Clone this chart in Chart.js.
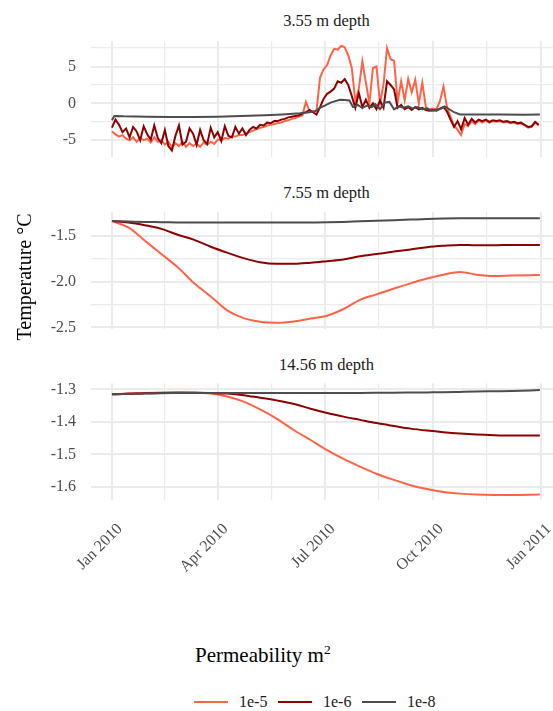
<!DOCTYPE html>
<html>
<head>
<meta charset="utf-8">
<script src="https://cdn.jsdelivr.net/npm/chart.js@4.4.1/dist/chart.umd.min.js"></script>
<style>
html,body{margin:0;padding:0;background:#ffffff;}
body{width:553px;height:711px;overflow:hidden;position:relative;font-family:"Liberation Serif","Times New Roman",serif;}
canvas{position:absolute;left:0;}
.strip{position:absolute;left:0;width:653px;text-align:center;font-size:16.5px;line-height:16px;color:#1a1a1a;white-space:nowrap;}
#ytitle{position:absolute;left:-76px;top:267px;width:200px;height:20px;line-height:20px;font-size:20px;text-align:center;color:#000;transform:rotate(-90deg);white-space:nowrap;}
#legtitle{position:absolute;left:195px;top:645px;font-size:21px;line-height:20px;color:#000;white-space:nowrap;}
#legtitle sup{font-size:13.5px;line-height:0;vertical-align:8px;}
.lkey{position:absolute;height:2px;}
.ltxt{position:absolute;font-size:16px;line-height:16px;color:#1a1a1a;white-space:nowrap;}
</style>
</head>
<body>
<div class="strip" id="s0" style="top:13px"></div>
<div class="strip" id="s1" style="top:185px"></div>
<div class="strip" id="s2" style="top:356.5px"></div>
<canvas id="c0" width="600" height="138" style="top:30px"></canvas>
<canvas id="c1" width="600" height="140" style="top:200px"></canvas>
<canvas id="c2" width="600" height="230" style="top:372px"></canvas>
<div id="ytitle">Temperature °C</div>
<div id="legtitle">Permeability m<sup>2</sup></div>
<div id="legend"></div>
<script>
// ---- series / categories ----
const seriesNames = ['1e-5', '1e-6', '1e-8'];
const seriesColors = ['#FF6347', '#8B0000', '#4D4D4D'];
const depthTitles = ['3.55 m depth', '7.55 m depth', '14.56 m depth'];

// x axis (days since 1 Jan 2010)
const xTickDays = [0, 90, 181, 273, 365];
const xTickLabels = ['Jan 2010', 'Apr 2010', 'Jul 2010', 'Oct 2010', 'Jan 2011'];
const xMinorDays = [45, 135.5, 227, 319];

// y ticks per panel
const yTicks355 = [-5, 0, 5];
const yTickLabels355 = ['-5', '0', '5'];
const yMinor355 = [-2.5, 2.5, 7.5];
const yTicks755 = [-2.5, -2.0, -1.5];
const yTickLabels755 = ['-2.5', '-2.0', '-1.5'];
const yMinor755 = [-2.25, -1.75];
const yTicks1456 = [-1.6, -1.5, -1.4, -1.3];
const yTickLabels1456 = ['-1.6', '-1.5', '-1.4', '-1.3'];
const yMinor1456 = [-1.55, -1.45, -1.35];

// ---- 3.55 m depth ----
const days355 = [
  0,3,6,9,12,15,18,21,24,27,
  30,33,36,39,42,45,48,51,54,57,
  60,63,66,69,72,75,78,81,84,87,
  90,93,96,99,102,105,108,111,114,117,
  120,123,126,129,132,135,138,141,144,147,
  150,153,156,159,162,165,168,171,174,177,
  180,183,186,189,192,195,198,201,204,207,
  210,213,216,219,222,225,228,231,234,237,
  240,243,246,249,252,255,258,261,264,267,
  270,273,276,279,282,285,288,291,294,297,
  300,303,306,309,312,315,318,321,324,327,
  330,333,336,339,342,345,348,351,354,357,
  360,363];
const temp355_1e5 = [
  -3.8,-4.2,-4.5,-4.3,-4.8,-5.0,-4.6,-5.2,-4.7,-5.0,
  -4.8,-5.3,-4.6,-5.2,-5.0,-5.6,-5.2,-6.0,-5.4,-5.8,
  -5.2,-5.9,-5.4,-5.8,-5.5,-5.9,-5.3,-5.6,-5.2,-5.5,
  -4.9,-5.0,-4.7,-4.8,-4.5,-4.5,-4.3,-4.3,-4.1,-3.9,
  -3.7,-3.5,-3.3,-3.2,-3.0,-2.9,-2.8,-2.7,-2.6,-2.4,
  -2.3,-2.1,-2.0,-1.8,-1.6,0.2,-1.0,-1.1,-1.0,3.5,
  4.6,5.2,6.5,7.4,7.3,7.8,7.6,6.5,4.8,0.3,
  2.0,5.7,2.8,0.0,4.8,5.0,0.0,2.6,7.5,6.0,
  5.8,0.2,3.0,0.4,3.3,1.5,3.2,0.0,2.8,-0.5,
  -0.8,-0.7,-0.8,0.3,2.3,-0.5,-1.8,-3.0,-3.6,-4.3,
  -2.8,-3.1,-2.4,-2.8,-2.3,-2.6,-2.3,-2.6,-2.4,-2.5,
  -2.4,-2.6,-2.5,-2.7,-2.6,-2.8,-2.7,-3.0,-3.3,-3.2,
  -2.6,-3.0];
const temp355_1e6 = [
  -3.3,-2.2,-2.9,-3.9,-3.4,-4.6,-3.2,-3.8,-5.0,-3.1,
  -4.2,-4.9,-3.0,-4.7,-5.4,-3.6,-5.8,-6.4,-4.4,-3.0,
  -5.6,-5.2,-3.4,-4.1,-5.6,-3.6,-5.0,-5.5,-3.3,-4.6,
  -3.9,-5.1,-3.1,-4.4,-4.6,-3.2,-4.1,-3.4,-4.3,-3.6,
  -3.2,-3.4,-2.9,-3.0,-2.6,-2.7,-2.4,-2.4,-2.2,-2.1,
  -1.9,-1.8,-1.7,-1.6,-1.4,-1.2,-0.9,-1.2,-1.5,-0.5,
  0.6,1.3,1.6,2.0,3.0,2.8,3.3,2.5,1.0,-0.6,
  1.4,-0.5,0.5,-0.6,0.0,-0.8,0.4,-0.6,3.0,2.5,
  1.9,-0.6,-0.2,-0.8,-0.5,-0.9,-0.5,-0.8,-0.6,-0.9,
  -1.0,-0.9,-1.0,-0.7,-0.5,-1.1,-2.2,-3.2,-2.4,-3.5,
  -2.0,-2.9,-2.1,-2.6,-2.2,-2.4,-2.2,-2.5,-2.3,-2.4,
  -2.3,-2.5,-2.4,-2.6,-2.5,-2.7,-2.6,-2.9,-3.2,-3.1,
  -2.5,-2.9];
const days355_1e8 = [0,2,10,30,50,70,90,110,130,145,160,168,173,177,181,186,190,194,198,202,205,209,213,217,221,224,228,232,236,240,244,248,252,256,260,264,268,272,276,280,283,287,291,296,310,330,350,364];
const temp355_1e8 = [-2.3,-1.7,-1.75,-1.8,-1.85,-1.85,-1.8,-1.7,-1.6,-1.5,-1.35,-1.2,-1.05,-0.6,-0.3,0.1,0.3,0.5,0.45,0.4,-0.5,-0.2,-0.6,-0.3,-0.5,-0.1,-0.8,0.1,0.2,-0.8,-0.4,-0.6,-0.4,-0.7,-0.5,-0.8,-0.7,-1.0,-0.9,-0.7,-0.4,-0.8,-1.2,-1.5,-1.5,-1.5,-1.55,-1.5];

// ---- 7.55 m and 14.56 m depth ----
const daysDeep = [0,14,28,42,56,70,84,98,112,126,140,155,169,183,197,211,225,240,254,268,282,296,310,325,340,364];
const temp755_1e5 = [-1.34,-1.41,-1.555,-1.70,-1.845,-2.02,-2.163,-2.315,-2.40,-2.44,-2.45,-2.436,-2.405,-2.373,-2.30,-2.20,-2.14,-2.076,-2.02,-1.967,-1.925,-1.895,-1.925,-1.94,-1.935,-1.93];
const temp755_1e6 = [-1.34,-1.355,-1.385,-1.425,-1.49,-1.546,-1.62,-1.685,-1.745,-1.79,-1.807,-1.807,-1.795,-1.778,-1.76,-1.725,-1.70,-1.673,-1.65,-1.625,-1.61,-1.60,-1.605,-1.605,-1.60,-1.60];
const temp755_1e8 = [-1.34,-1.345,-1.35,-1.352,-1.355,-1.356,-1.357,-1.357,-1.357,-1.357,-1.357,-1.356,-1.355,-1.354,-1.35,-1.343,-1.337,-1.33,-1.324,-1.318,-1.313,-1.31,-1.309,-1.309,-1.309,-1.309];
const temp1456_1e5 = [-1.3155,-1.313,-1.311,-1.3095,-1.309,-1.3095,-1.313,-1.322,-1.338,-1.362,-1.39,-1.426,-1.456,-1.487,-1.514,-1.538,-1.56,-1.579,-1.595,-1.607,-1.616,-1.621,-1.624,-1.625,-1.625,-1.624];
const temp1456_1e6 = [-1.3155,-1.314,-1.312,-1.311,-1.3105,-1.3105,-1.311,-1.313,-1.318,-1.326,-1.334,-1.345,-1.36,-1.373,-1.384,-1.394,-1.404,-1.413,-1.421,-1.427,-1.432,-1.436,-1.439,-1.441,-1.442,-1.442];
const temp1456_1e8 = [-1.3155,-1.314,-1.313,-1.312,-1.3115,-1.311,-1.311,-1.311,-1.311,-1.311,-1.311,-1.311,-1.311,-1.311,-1.311,-1.311,-1.3108,-1.3105,-1.310,-1.3095,-1.309,-1.308,-1.307,-1.306,-1.305,-1.3025];

// ---- build charts ----
const GRID = '#EBEBEB';
const TICKCOL = '#4D4D4D';
const FONT = '"Liberation Serif", "Times New Roman", serif';
const X_MIN = -18.25, X_MAX = 383.25;
const PLOT_LEFT = 90.5, PLOT_RIGHT = 562.5;

function pts(days, vals) { return days.map((d, i) => ({ x: d, y: vals[i] })); }

function makeDatasets(list, smooth) {
  return list.map((s, k) => ({
    label: seriesNames[k],
    data: pts(s[0], s[1]),
    borderColor: seriesColors[k],
    backgroundColor: seriesColors[k],
    borderWidth: 2,
    pointRadius: 0,
    fill: false,
    tension: 0,
    cubicInterpolationMode: smooth ? 'monotone' : 'default',
    order: 3 - k
  }));
}

function makeChart(id, datasets, yMin, yMax, yMajor, yLabels, yMinor, showX, area, xAxisH) {
  const xGrid = xTickDays.concat(xMinorDays).sort((a, b) => a - b);
  const yGrid = yMajor.concat(yMinor).sort((a, b) => a - b);
  const isMaj = (arr, v) => arr.some(a => Math.abs(a - v) < 1e-9);
  const canvas = document.getElementById(id);
  const H = canvas.height;
  const chart = new Chart(canvas, {
    type: 'line',
    data: { datasets },
    options: {
      responsive: false,
      animation: false,
      devicePixelRatio: 1,
      layout: { padding: { top: area[0], right: 600 - PLOT_RIGHT, bottom: H - area[1] - (showX ? xAxisH : 0), left: 0 } },
      plugins: { legend: { display: false }, tooltip: { enabled: false }, title: { display: false } },
      scales: {
        x: {
          type: 'linear', min: X_MIN, max: X_MAX,
          afterBuildTicks: s => { s.ticks = xGrid.map(v => ({ value: v })); },
          afterFit: s => { s.height = showX ? xAxisH : 0; s.paddingLeft = 0; s.paddingRight = 0; s.paddingTop = 0; s.paddingBottom = 0; },
          grid: { color: GRID, drawTicks: false, lineWidth: c => isMaj(xTickDays, c.tick.value) ? 2 : 1.2 },
          border: { display: false },
          ticks: {
            display: showX, autoSkip: false, minRotation: 45, maxRotation: 45, padding: 20, labelOffset: 8,
            color: TICKCOL, font: { family: FONT, size: 16 },
            callback: v => { const i = xTickDays.indexOf(v); return i >= 0 ? xTickLabels[i] : ''; }
          }
        },
        y: {
          type: 'linear', min: yMin, max: yMax,
          afterBuildTicks: s => { s.ticks = yGrid.map(v => ({ value: v })); },
          afterFit: s => { s.width = PLOT_LEFT; s.paddingTop = 0; s.paddingBottom = 0; s.paddingLeft = 0; s.paddingRight = 0; },
          grid: { color: GRID, drawTicks: false, lineWidth: c => isMaj(yMajor, c.tick.value) ? 2 : 1.2 },
          border: { display: false },
          ticks: {
            padding: 14.5, color: TICKCOL, font: { family: FONT, size: 16 },
            callback: v => { const i = yMajor.findIndex(a => Math.abs(a - v) < 1e-9); return i >= 0 ? yLabels[i] : ''; }
          }
        }
      }
    }
  });
  // make sure the plotting area lands exactly on the wanted panel box
  for (let it = 0; it < 5; it++) {
    const ca = chart.chartArea;
    const p = chart.options.layout.padding;
    const dT = area[0] - ca.top, dB = ca.bottom - area[1], dR = ca.right - PLOT_RIGHT, dL = PLOT_LEFT - ca.left;
    if (Math.abs(dT) < 0.05 && Math.abs(dB) < 0.05 && Math.abs(dR) < 0.05 && Math.abs(dL) < 0.05) break;
    p.top += dT; p.bottom += dB; p.right += dR; p.left += dL;
    chart.update();
  }
  return chart;
}

// panel boxes in canvas coordinates: [top, bottom]
makeChart('c0', makeDatasets([[days355, temp355_1e5], [days355, temp355_1e6], [days355_1e8, temp355_1e8]], false),
  -7.3, 8.5, yTicks355, yTickLabels355, yMinor355, false, [10.7, 127.2], 0);
makeChart('c1', makeDatasets([[daysDeep, temp755_1e5], [daysDeep, temp755_1e6], [daysDeep, temp755_1e8]], true),
  -2.513, -1.241, yTicks755, yTickLabels755, yMinor755, false, [12, 128.5], 0);
makeChart('c2', makeDatasets([[daysDeep, temp1456_1e5], [daysDeep, temp1456_1e6], [daysDeep, temp1456_1e8]], true),
  -1.640, -1.2815, yTicks1456, yTickLabels1456, yMinor1456, true, [11.3, 127.8], 100);

// strip titles
depthTitles.forEach((t, i) => { document.getElementById('s' + i).textContent = t; });

// legend
const keyLeft = [194, 278, 362];
const txtLeft = [239, 323, 407];
const leg = document.getElementById('legend');
seriesNames.forEach((n, i) => {
  const k = document.createElement('div');
  k.className = 'lkey';
  k.style.left = keyLeft[i] + 'px'; k.style.top = '701px'; k.style.width = '34px';
  k.style.background = seriesColors[i];
  leg.appendChild(k);
  const t = document.createElement('div');
  t.className = 'ltxt';
  t.style.left = txtLeft[i] + 'px'; t.style.top = '694px';
  t.textContent = n;
  leg.appendChild(t);
});
</script>
</body>
</html>
